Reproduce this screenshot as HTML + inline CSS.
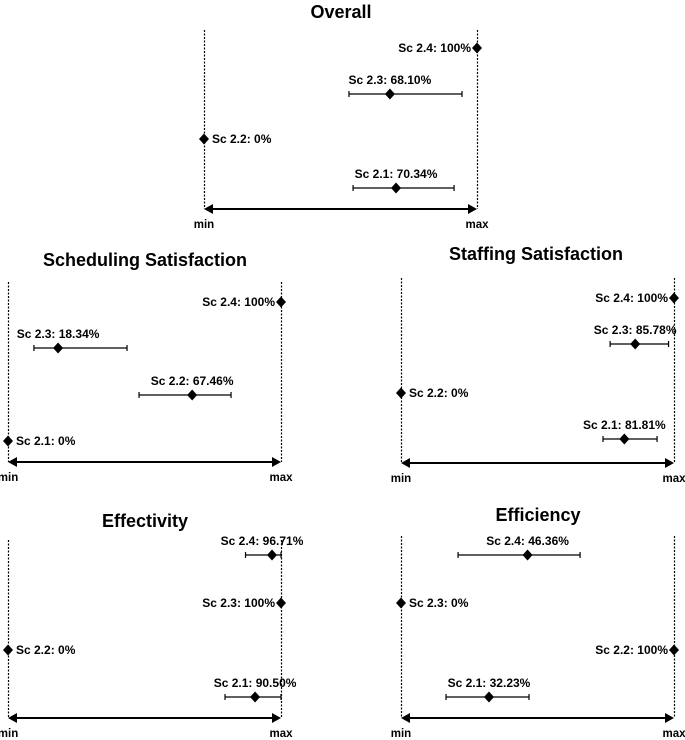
<!DOCTYPE html>
<html><head><meta charset="utf-8"><style>
html,body{margin:0;padding:0;background:#fff}
svg{display:block;font-family:"Liberation Sans",sans-serif}
</style></head><body>
<svg id="c" width="685" height="740" viewBox="0 0 685 740"></svg>
<script>
const overallLabels=["Sc 2.4","Sc 2.3","Sc 2.2","Sc 2.1"];
const overallValues=[100,68.10,0,70.34];
const overallLow=[null,53.1,null,54.6];
const overallHigh=[null,94.5,null,91.6];
const schedLabels=["Sc 2.4","Sc 2.3","Sc 2.2","Sc 2.1"];
const schedValues=[100,18.34,67.46,0];
const schedLow=[null,9.5,48,null];
const schedHigh=[null,43.6,81.7,null];
const staffLabels=["Sc 2.4","Sc 2.3","Sc 2.2","Sc 2.1"];
const staffValues=[100,85.78,0,81.81];
const staffLow=[null,76.6,null,74];
const staffHigh=[null,98,null,93.8];
const effectLabels=["Sc 2.4","Sc 2.3","Sc 2.2","Sc 2.1"];
const effectValues=[96.71,100,0,90.50];
const effectLow=[87,null,null,79.5];
const effectHigh=[100,null,null,100];
const effLabels=["Sc 2.4","Sc 2.3","Sc 2.2","Sc 2.1"];
const effValues=[46.36,0,100,32.23];
const effLow=[20.9,null,null,16.5];
const effHigh=[65.6,null,null,46.9];

const svg=document.getElementById('c');
const NS='http://www.w3.org/2000/svg';
function mk(tag,attrs,parent){const e=document.createElementNS(NS,tag);for(const k in attrs)e.setAttribute(k,attrs[k]);parent.appendChild(e);return e;}
const fmt=v=>(v===100||v===0)?v+'%':v.toFixed(2)+'%';

function panel(name,title,titleX,titleY,x0,x1,top,axisY,rows,labels,values,low,high){
  const g=mk('g',{},svg);
  
  
  const sx=v=>x0+(x1-x0)*v/100;
  const t=mk('text',{x:titleX,y:titleY,'text-anchor':'middle','font-size':18,'font-weight':'bold'},g);
  t.textContent=title;
  
  
  [x0,x1].forEach((x,i)=>{
    const l=mk('line',{x1:x+0.5,x2:x+0.5,y1:top,y2:axisY,stroke:'#000','stroke-width':1.2,'stroke-dasharray':'2,1.5'},g);
    
    
  });
  const ax=mk('line',{x1:x0+6,x2:x1-6,y1:axisY,y2:axisY,stroke:'#000','stroke-width':2},g);
  
  
  mk('path',{d:`M${x0} ${axisY} l9 -5 v10 z M${x1} ${axisY} l-9 -5 v10 z`,fill:'#000'},g);
  [['min',x0],['max',x1]].forEach(([s,x])=>{
    const e=mk('text',{x:x,y:axisY+19,'text-anchor':'middle','font-size':11.5,'font-weight':'bold'},g);
    e.textContent=s;
    
    
  });
  values.forEach((v,i)=>{
    const y=rows[i],x=sx(v);
    if(low[i]!==null){
      const a=sx(low[i]),b=sx(high[i]);
      const eb=mk('path',{d:`M${a} ${y}H${b}M${a} ${y-3}v6M${b} ${y-3}v6`,stroke:'#000','stroke-width':1.2,fill:'none'},g);
      
      
    }
    const p=mk('path',{d:`M${x} ${y-5.5}l5 5.5l-5 5.5l-5 -5.5z`,fill:'#000'},g);
    
    
    let lx,ly,anc;
    if(low[i]!==null){lx=(v>=95?x-10:x);ly=y-10;anc='middle';}
    else if(v>=100){lx=x-6;ly=y+4;anc='end';}
    else {lx=x+8;ly=y+4;anc='start';}
    const tx=mk('text',{x:lx,y:ly,'text-anchor':anc,'font-size':12,'font-weight':'bold'},g);
    tx.textContent=labels[i]+': '+fmt(v);
    
    
  });
}
panel('overall-panel','Overall',341,18,204,477,30,209,[48,94,139,188],overallLabels,overallValues,overallLow,overallHigh);
panel('scheduling-panel','Scheduling Satisfaction',145,266,8,281,282,462,[302,348,395,441],schedLabels,schedValues,schedLow,schedHigh);
panel('staffing-panel','Staffing Satisfaction',536,260,401,674,278,463,[298,344,393,439],staffLabels,staffValues,staffLow,staffHigh);
panel('effectivity-panel','Effectivity',145,527,8,281,540,718,[555,603,650,697],effectLabels,effectValues,effectLow,effectHigh);
panel('efficiency-panel','Efficiency',538,521,401,674,536,718,[555,603,650,697],effLabels,effValues,effLow,effHigh);
</script>
</body></html>
